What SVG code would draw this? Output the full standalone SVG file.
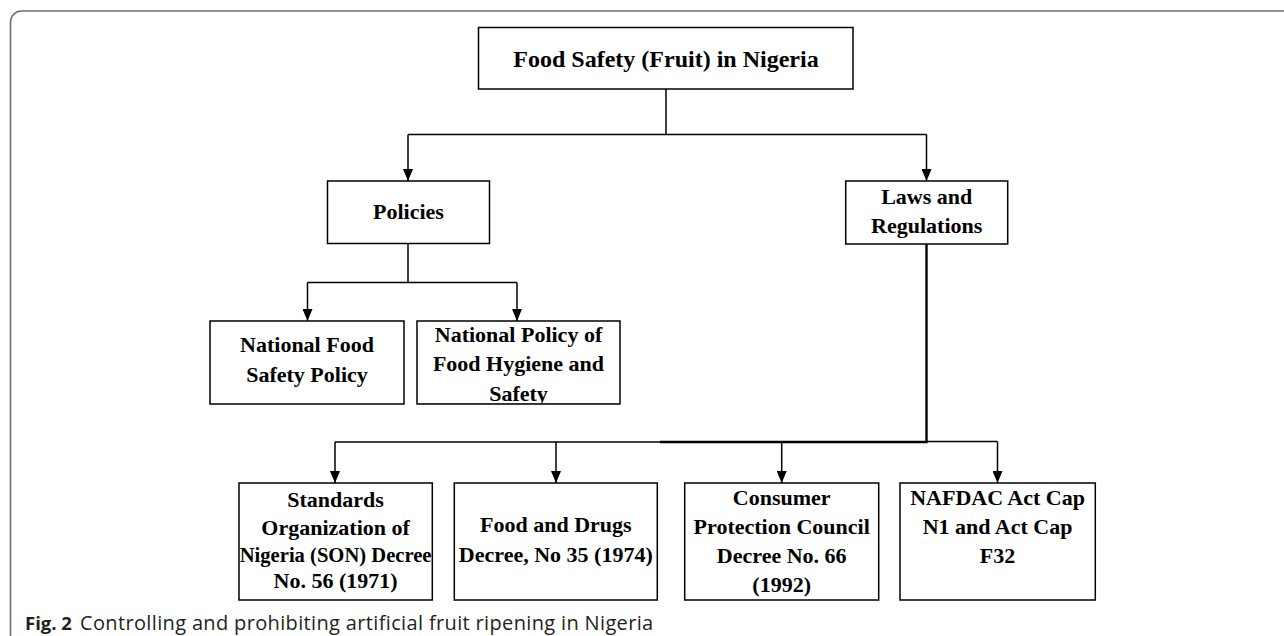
<svg xmlns="http://www.w3.org/2000/svg" width="1284" height="636" viewBox="0 0 1284 636">
<defs>
<marker id="arr" viewBox="0 0 12 10" refX="12" refY="5" markerWidth="12" markerHeight="10" markerUnits="userSpaceOnUse" orient="auto">
<path d="M0,0 L12,5 L0,10 z" fill="#000"/>
</marker>
<style>
.box{fill:#fff;stroke:#000;stroke-width:1.5}
.t{font-family:"Liberation Serif","Times New Roman",serif;font-weight:bold;font-size:22px;fill:#000;text-anchor:middle}
.c{fill:none;stroke:#000;stroke-width:1.5}
.a{marker-end:url(#arr)}
.cap{font-family:"Open Sans","Noto Sans",sans-serif;font-size:20px;fill:#231f20}
</style>
</defs>
<rect x="0" y="0" width="1284" height="636" fill="#fff"/>
<rect x="10.5" y="11" width="1320" height="700" rx="11" ry="11" fill="none" stroke="#6f6f6f" stroke-width="1.6"/>

<g id="connectors">
<path class="c" d="M666,89 V134.5 M408,134.5 H926.5"/>
<path class="c a" d="M408,134.5 V181"/>
<path class="c a" d="M926.5,134.5 V181"/>
<path class="c" d="M408,243.5 V282.5 M307.5,282.5 H517"/>
<path class="c a" d="M307.5,282.5 V321"/>
<path class="c a" d="M517,282.5 V321"/>
<path class="c" style="stroke-width:2.4" d="M926.5,244 V442 H660"/>
<path class="c" d="M660,442 H335 M926.5,441.5 H997.5"/>
<path class="c a" d="M335,442 V483"/>
<path class="c a" d="M556,442 V483"/>
<path class="c a" d="M781.7,442 V483"/>
<path class="c a" d="M997.5,441.5 V483"/>
</g>

<g id="root">
<rect class="box" x="478.5" y="27.5" width="374.5" height="61.5"/>
<text class="t" x="666" y="66.5" style="font-size:24px">Food Safety (Fruit) in Nigeria</text>
</g>
<g id="policies">
<rect class="box" x="327.5" y="181" width="162" height="62.5"/>
<text class="t" x="408.5" y="219">Policies</text>
</g>
<g id="laws">
<rect class="box" x="845.7" y="181" width="162" height="63"/>
<text class="t" x="926.7" y="204">Laws and</text>
<text class="t" x="926.7" y="233">Regulations</text>
</g>
<g id="nfsp">
<rect class="box" x="210" y="321" width="194" height="83"/>
<text class="t" x="307" y="352.3">National Food</text>
<text class="t" x="307" y="381.7">Safety Policy</text>
</g>
<g id="npfhs">
<rect class="box" x="417" y="321" width="203" height="83"/>
<text class="t" x="518.5" y="342.3">National Policy of</text>
<text class="t" x="518.5" y="370.7">Food Hygiene and</text>
<text class="t" x="518.5" y="401">Safety</text>
<rect x="416" y="403.3" width="205" height="3" fill="#fff"/>
<line x1="416.25" y1="404" x2="620.75" y2="404" stroke="#000" stroke-width="1.5"/>
</g>
<g id="son">
<rect class="box" x="239" y="483" width="193.3" height="117"/>
<text class="t" x="335.6" y="507.3">Standards</text>
<text class="t" x="335.6" y="535">Organization of</text>
<text class="t" x="335.6" y="561.7" style="font-size:20.6px">Nigeria (SON) Decree</text>
<text class="t" x="335.6" y="588.3">No. 56 (1971)</text>
</g>
<g id="fdd">
<rect class="box" x="454.3" y="483" width="203" height="117"/>
<text class="t" x="555.8" y="532.3">Food and Drugs</text>
<text class="t" x="555.8" y="561.7">Decree, No 35 (1974)</text>
</g>
<g id="cpc">
<rect class="box" x="684.7" y="483" width="194" height="117"/>
<text class="t" x="781.7" y="505">Consumer</text>
<text class="t" x="781.7" y="534">Protection Council</text>
<text class="t" x="781.7" y="563.3">Decree No. 66</text>
<text class="t" x="781.7" y="591.7">(1992)</text>
</g>
<g id="nafdac">
<rect class="box" x="900" y="483" width="195.3" height="117"/>
<text class="t" x="997.6" y="505">NAFDAC Act Cap</text>
<text class="t" x="997.6" y="534">N1 and Act Cap</text>
<text class="t" x="997.6" y="563.3">F32</text>
</g>

<text class="cap" x="25" y="630"><tspan font-weight="bold" font-size="18.5">Fig. 2</tspan><tspan x="80" letter-spacing="0.35">Controlling and prohibiting artificial fruit ripening in Nigeria</tspan></text>
</svg>
